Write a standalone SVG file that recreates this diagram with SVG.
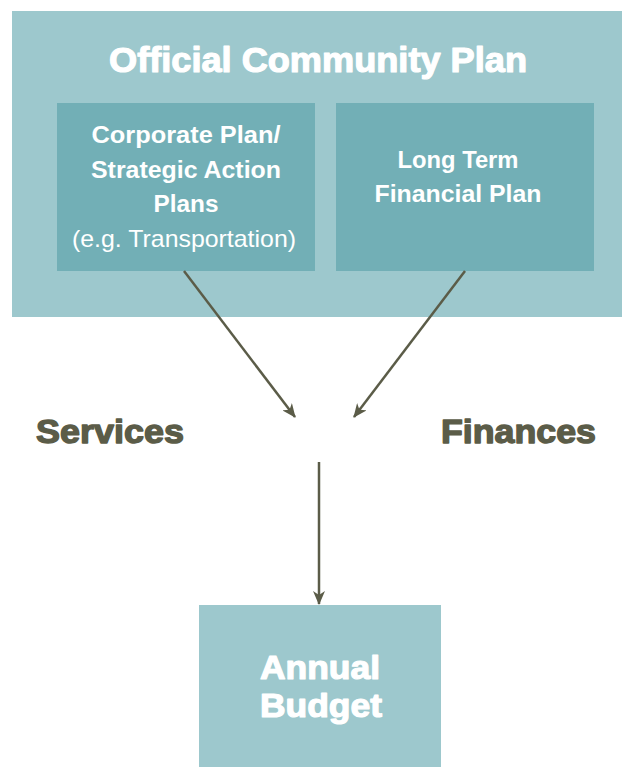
<svg xmlns="http://www.w3.org/2000/svg" width="624" height="767" viewBox="0 0 624 767">
  <style>
    .outer { fill: #9dc8cd; }
    .inner { fill: #72afb6; }
    .hd { font-family: "Liberation Sans", Arial, sans-serif; font-weight: bold; fill: #ffffff; }
    .heavy { stroke: #ffffff; stroke-width: 1.2; stroke-linejoin: round; }
    .sub { font-family: "Liberation Sans", Arial, sans-serif; fill: #ffffff; }
    .lbl { font-family: "Liberation Sans", Arial, sans-serif; font-weight: bold; fill: #5b5c48; stroke: #5b5c48; stroke-width: 1.4; stroke-linejoin: round; }
    .conn { stroke: #5b5c48; stroke-width: 2.5; fill: none; marker-end: url(#arrow); }
  </style>
  <defs>
    <marker id="arrow" viewBox="0 0 14 12" refX="13" refY="6" markerWidth="14" markerHeight="12" markerUnits="userSpaceOnUse" orient="auto">
      <path d="M0,0 L14,6 L0,12 L4,6 z" fill="#5b5c48"/>
    </marker>
  </defs>

  <g id="official-community-plan">
    <rect class="outer" x="12" y="11" width="610" height="306"/>
    <text class="hd heavy" x="318" y="72" font-size="35" text-anchor="middle" textLength="418" lengthAdjust="spacingAndGlyphs">Official Community Plan</text>
  </g>

  <g id="corporate-plan">
    <rect class="inner" x="57" y="103" width="258" height="168"/>
    <text class="hd" x="186" y="143" font-size="24" text-anchor="middle" textLength="189" lengthAdjust="spacingAndGlyphs">Corporate Plan/</text>
    <text class="hd" x="186" y="178" font-size="24" text-anchor="middle" textLength="190" lengthAdjust="spacingAndGlyphs">Strategic Action</text>
    <text class="hd" x="186" y="212" font-size="24" text-anchor="middle" textLength="65" lengthAdjust="spacingAndGlyphs">Plans</text>
    <text class="sub" x="184" y="247" font-size="24" text-anchor="middle" textLength="224" lengthAdjust="spacingAndGlyphs">(e.g. Transportation)</text>
  </g>

  <g id="long-term-financial-plan">
    <rect class="inner" x="336" y="103" width="258" height="168"/>
    <text class="hd" x="458" y="168" font-size="24" text-anchor="middle" textLength="121" lengthAdjust="spacingAndGlyphs">Long Term</text>
    <text class="hd" x="458" y="202" font-size="24" text-anchor="middle" textLength="167" lengthAdjust="spacingAndGlyphs">Financial Plan</text>
  </g>

  <g id="services">
    <text class="lbl" x="36" y="443" font-size="34" textLength="148" lengthAdjust="spacingAndGlyphs">Services</text>
  </g>

  <g id="finances">
    <text class="lbl" x="441" y="443" font-size="34" textLength="155" lengthAdjust="spacingAndGlyphs">Finances</text>
  </g>

  <g id="annual-budget">
    <rect class="outer" x="199" y="605" width="242" height="162"/>
    <text class="hd heavy" x="320" y="679" font-size="33" text-anchor="middle" textLength="120" lengthAdjust="spacingAndGlyphs">Annual</text>
    <text class="hd heavy" x="321" y="717" font-size="33" text-anchor="middle" textLength="122" lengthAdjust="spacingAndGlyphs">Budget</text>
  </g>

  <g id="connectors">
    <line class="conn" x1="184" y1="271" x2="295" y2="417"/>
    <line class="conn" x1="465" y1="271" x2="354" y2="417"/>
    <line class="conn" x1="319" y1="462" x2="319" y2="604"/>
  </g>
</svg>
